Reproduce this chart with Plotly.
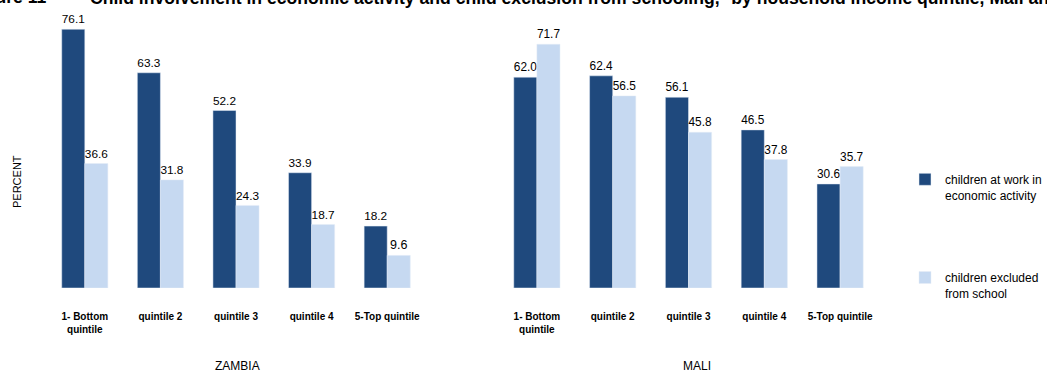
import plotly.graph_objects as go

# Household income quintiles (tick labels shared by both countries)
quintiles = ["1- Bottom<br>quintile", "quintile 2", "quintile 3", "quintile 4", "5-Top quintile"]

# Zambia, percent of children
zambia_work = [76.1, 63.3, 52.2, 33.9, 18.2]
zambia_excluded = [36.6, 31.8, 24.3, 18.7, 9.6]

# Mali, percent of children
mali_work = [62.0, 62.4, 56.1, 46.5, 30.6]
mali_excluded = [71.7, 56.5, 45.8, 37.8, 35.7]

series_names = ["children at work in<br>economic activity", "children excluded<br>from school"]

DARK = "#1F497D"
LIGHT = "#C6D9F1"
FONT = "Liberation Sans, Arial, sans-serif"

W, H = 1047, 372
fig = go.Figure()


def add_pair(xaxis, yaxis, work, excluded, show):
    fig.add_trace(go.Bar(
        x=quintiles, y=work, name=series_names[0], marker_color=DARK,
        text=[f"{v:.1f}" for v in work], textposition="outside",
        textfont=dict(size=12.5, color="#000000", family=FONT),
        cliponaxis=False, xaxis=xaxis, yaxis=yaxis,
        showlegend=show, legendgroup="work",
    ))
    fig.add_trace(go.Bar(
        x=quintiles, y=excluded, name=series_names[1], marker_color=LIGHT,
        text=[f"{v:.1f}" for v in excluded], textposition="outside",
        textfont=dict(size=12.5, color="#000000", family=FONT),
        cliponaxis=False, xaxis=xaxis, yaxis=yaxis,
        showlegend=show, legendgroup="excluded",
    ))


add_pair("x", "y", zambia_work, zambia_excluded, True)
add_pair("x2", "y2", mali_work, mali_excluded, False)

top_px, base_px = 16, 288
plot_h = base_px - top_px


def py(pixel_y):
    """Convert a pixel row to paper coordinates."""
    return (base_px - pixel_y) / plot_h


def px(pixel_x):
    return pixel_x / W


xcommon = dict(
    showgrid=False, zeroline=False, showline=False, ticks="",
    tickfont=dict(size=10, color="#000000", family=FONT, weight="bold"),
    ticklabelstandoff=21, fixedrange=True,
)
ycommon = dict(range=[0, 80], showgrid=False, zeroline=False, showline=False,
               showticklabels=False, ticks="", fixedrange=True)

fig.update_layout(
    width=W, height=H,
    margin=dict(l=0, r=0, t=top_px, b=H - base_px),
    paper_bgcolor="white", plot_bgcolor="white",
    barmode="group", bargap=0.39, bargroupgap=0.0,
    font=dict(family=FONT, color="#000000"),
    xaxis=dict(domain=[px(47), px(425)], anchor="y", **xcommon),
    yaxis=dict(domain=[0, 1], anchor="x", **ycommon),
    xaxis2=dict(domain=[px(499), px(878)], anchor="y2", **xcommon),
    yaxis2=dict(domain=[0, 1], anchor="x2", **ycommon),
    legend=dict(
        x=px(905), xanchor="left", y=py(165), yanchor="top",
        font=dict(size=12, color="#000000", family=FONT),
        tracegroupgap=64, valign="top", itemwidth=30,
        bgcolor="rgba(0,0,0,0)",
    ),
    annotations=[
        dict(text="<b>Figure 11</b>", xref="paper", yref="paper",
             x=px(48), y=py(-3), xanchor="right", yanchor="middle",
             showarrow=False, font=dict(size=17.6, family=FONT)),
        dict(text="<b>Child involvement in economic activity and child exclusion from schooling,<sup>a</sup> "
                  "by household income quintile, Mali and Zambia</b>",
             xref="paper", yref="paper",
             x=px(88), y=py(-3), xanchor="left", yanchor="middle",
             showarrow=False, font=dict(size=17.6, family=FONT)),
        dict(text="PERCENT", xref="paper", yref="paper", x=px(17), y=py(182),
             xanchor="center", yanchor="middle", textangle=-90, showarrow=False,
             font=dict(size=11, family=FONT)),
        dict(text="ZAMBIA", xref="paper", yref="paper", x=px(237), y=py(366),
             xanchor="center", yanchor="middle", showarrow=False,
             font=dict(size=12, family=FONT)),
        dict(text="MALI", xref="paper", yref="paper", x=px(697), y=py(366),
             xanchor="center", yanchor="middle", showarrow=False,
             font=dict(size=12, family=FONT)),
    ],
)

fig.write_html("out.html", config={"displayModeBar": False})
